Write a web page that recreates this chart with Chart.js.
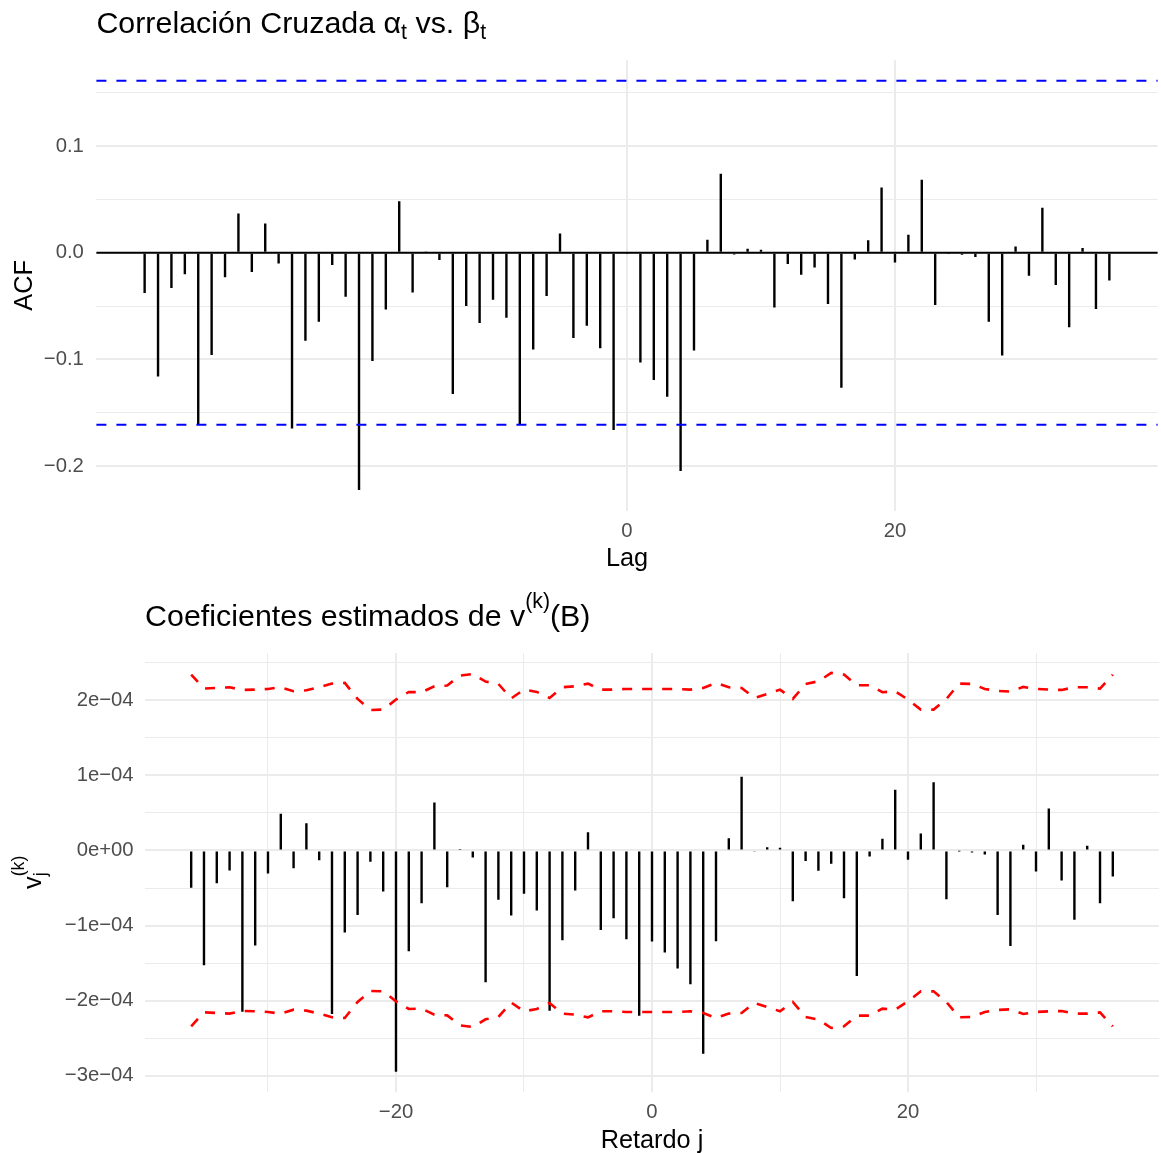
<!DOCTYPE html>
<html>
<head>
<meta charset="utf-8">
<script src="https://cdn.jsdelivr.net/npm/chart.js@4.4.0/dist/chart.umd.min.js"></script>
<style>
html,body{margin:0;padding:0;background:#ffffff;}
#wrap{position:relative;width:1161px;height:1153px;background:#fff;}
.box{position:absolute;left:0;width:1161px;}
</style>
</head>
<body>
<div id="wrap">
  <div class="box" style="top:0;height:580px"><canvas id="c1" width="1161" height="580"></canvas></div>
  <div class="box" style="top:580px;height:573px"><canvas id="c2" width="1161" height="573"></canvas></div>
</div>
<script>
// ---------------- DATA ----------------
// Panel 1: cross-correlation
const acfLags = [-36,-35,-34,-33,-32,-31,-30,-29,-28,-27,-26,-25,-24,-23,-22,-21,-20,-19,-18,-17,-16,-15,-14,-13,-12,-11,-10,-9,-8,-7,-6,-5,-4,-3,-2,-1,0,1,2,3,4,5,6,7,8,9,10,11,12,13,14,15,16,17,18,19,20,21,22,23,24,25,26,27,28,29,30,31,32,33,34,35,36];
const acfValues = [-0.0378,-0.1160,-0.0331,-0.0203,-0.1617,-0.0960,-0.0231,0.0369,-0.0181,0.0275,-0.0100,-0.1648,-0.0826,-0.0647,-0.0116,-0.0413,-0.2226,-0.1016,-0.0532,0.0482,-0.0372,0.0005,-0.0069,-0.1326,-0.0500,-0.0660,-0.0441,-0.0610,-0.1617,-0.0907,-0.0407,0.0181,-0.0800,-0.0685,-0.0897,-0.1664,-0.0005,-0.1029,-0.1194,-0.1351,-0.2048,-0.0916,0.0122,0.0741,-0.0016,0.0038,0.0028,-0.0513,-0.0106,-0.0206,-0.0138,-0.0482,-0.1266,-0.0063,0.0116,0.0613,-0.0091,0.0169,0.0685,-0.0491,-0.0005,-0.0019,-0.0041,-0.0647,-0.0963,0.0059,-0.0216,0.0422,-0.0303,-0.0700,0.0044,-0.0528,-0.0260];
const acfLimits = [-0.1614, 0.1614];
const acfRefLine = [0];
const topXTicks = [0, 20];
const topXLabels = ["0", "20"];
const topYMajor = [-0.2, -0.1, 0, 0.1];
const topYLabels = ["\u22120.2", "\u22120.1", "0.0", "0.1"];
const topYMinor = [-0.15, -0.05, 0.05, 0.15];

// Panel 2: estimated coefficients
const vLags = [-36,-35,-34,-33,-32,-31,-30,-29,-28,-27,-26,-25,-24,-23,-22,-21,-20,-19,-18,-17,-16,-15,-14,-13,-12,-11,-10,-9,-8,-7,-6,-5,-4,-3,-2,-1,0,1,2,3,4,5,6,7,8,9,10,11,12,13,14,15,16,17,18,19,20,21,22,23,24,25,26,27,28,29,30,31,32,33,34,35,36];
const vValues = [-0.498e-4,-1.529e-4,-0.436e-4,-0.267e-4,-2.147e-4,-1.267e-4,-0.307e-4,0.489e-4,-0.236e-4,0.364e-4,-0.129e-4,-2.178e-4,-1.093e-4,-0.858e-4,-0.151e-4,-0.547e-4,-2.947e-4,-1.342e-4,-0.702e-4,0.640e-4,-0.489e-4,0.005e-4,-0.093e-4,-1.756e-4,-0.658e-4,-0.867e-4,-0.578e-4,-0.800e-4,-2.133e-4,-1.196e-4,-0.533e-4,0.244e-4,-1.058e-4,-0.902e-4,-1.182e-4,-2.200e-4,-1.213e-4,-1.360e-4,-1.573e-4,-1.782e-4,-2.707e-4,-1.209e-4,0.164e-4,0.982e-4,-0.018e-4,0.044e-4,0.036e-4,-0.676e-4,-0.142e-4,-0.271e-4,-0.178e-4,-0.636e-4,-1.671e-4,-0.080e-4,0.156e-4,0.809e-4,-0.124e-4,0.227e-4,0.907e-4,-0.649e-4,-0.005e-4,-0.027e-4,-0.053e-4,-0.858e-4,-1.271e-4,0.076e-4,-0.280e-4,0.560e-4,-0.400e-4,-0.924e-4,0.062e-4,-0.702e-4,-0.347e-4];
const vUpper = [2.342e-4,2.156e-4,2.164e-4,2.173e-4,2.138e-4,2.142e-4,2.151e-4,2.173e-4,2.120e-4,2.133e-4,2.173e-4,2.222e-4,2.231e-4,2.018e-4,1.871e-4,1.876e-4,2.009e-4,2.111e-4,2.107e-4,2.187e-4,2.196e-4,2.329e-4,2.351e-4,2.249e-4,2.218e-4,2.025e-4,2.142e-4,2.111e-4,2.031e-4,2.173e-4,2.187e-4,2.222e-4,2.142e-4,2.142e-4,2.151e-4,2.151e-4,2.151e-4,2.151e-4,2.151e-4,2.142e-4,2.164e-4,2.231e-4,2.173e-4,2.164e-4,2.031e-4,2.084e-4,2.142e-4,2.018e-4,2.218e-4,2.253e-4,2.364e-4,2.342e-4,2.200e-4,2.200e-4,2.107e-4,2.120e-4,2.009e-4,1.876e-4,1.876e-4,2.018e-4,2.222e-4,2.218e-4,2.151e-4,2.124e-4,2.116e-4,2.178e-4,2.151e-4,2.142e-4,2.138e-4,2.173e-4,2.173e-4,2.156e-4,2.342e-4];
const vLower = [-2.342e-4,-2.156e-4,-2.164e-4,-2.173e-4,-2.138e-4,-2.142e-4,-2.151e-4,-2.173e-4,-2.120e-4,-2.133e-4,-2.173e-4,-2.222e-4,-2.231e-4,-2.018e-4,-1.871e-4,-1.876e-4,-2.009e-4,-2.111e-4,-2.107e-4,-2.187e-4,-2.196e-4,-2.329e-4,-2.351e-4,-2.249e-4,-2.218e-4,-2.025e-4,-2.142e-4,-2.111e-4,-2.031e-4,-2.173e-4,-2.187e-4,-2.222e-4,-2.142e-4,-2.142e-4,-2.151e-4,-2.151e-4,-2.151e-4,-2.151e-4,-2.151e-4,-2.142e-4,-2.164e-4,-2.231e-4,-2.173e-4,-2.164e-4,-2.031e-4,-2.084e-4,-2.142e-4,-2.018e-4,-2.218e-4,-2.253e-4,-2.364e-4,-2.342e-4,-2.200e-4,-2.200e-4,-2.107e-4,-2.120e-4,-2.009e-4,-1.876e-4,-1.876e-4,-2.018e-4,-2.222e-4,-2.218e-4,-2.151e-4,-2.124e-4,-2.116e-4,-2.178e-4,-2.151e-4,-2.142e-4,-2.138e-4,-2.173e-4,-2.173e-4,-2.156e-4,-2.342e-4];
const botXMajor = [-20, 0, 20];
const botXLabels = ["\u221220", "0", "20"];
const botXMinor = [-30, -10, 10, 30];
const botYMajor = [-3e-4, -2e-4, -1e-4, 0, 1e-4, 2e-4];
const botYLabels = ["\u22123e\u221204", "\u22122e\u221204", "\u22121e\u221204", "0e+00", "1e\u221204", "2e\u221204"];
const botYMinor = [-2.5e-4, -1.5e-4, -0.5e-4, 0.5e-4, 1.5e-4, 2.5e-4];

// ---------------- HELPERS ----------------
const FONT = '"Liberation Sans", Arial, Helvetica, sans-serif';
const TICK_SIZE = 20.3, AXIS_TITLE = 25.3, TITLE = 30.4;
const GRID = '#EBEBEB', TICKCOL = '#4D4D4D';

function near(a, b) { return Math.abs(a - b) < 1e-12; }
function inList(v, list) { return list.some(x => near(x, v)); }
function expandRange(arrs) {
  const all = [].concat(...arrs);
  const lo = Math.min(...all), hi = Math.max(...all);
  const p = 0.05 * (hi - lo);
  return [lo - p, hi + p];
}
function labelFor(v, ticks, labels) {
  const i = ticks.findIndex(x => near(x, v));
  return i >= 0 ? labels[i] : '';
}
function richWidth(ctx, parts, size) {
  let w = 0;
  for (const p of parts) {
    if (p.stack) {
      ctx.font = (size * 0.7) + 'px ' + FONT;
      w += Math.max(ctx.measureText(p.stack[0]).width, ctx.measureText(p.stack[1]).width);
    } else {
      ctx.font = (size * (p.scale || 1)) + 'px ' + FONT;
      w += ctx.measureText(p.t).width;
    }
  }
  return w;
}
function drawRich(ctx, parts, x, y, size) {
  let cx = x;
  for (const p of parts) {
    if (p.stack) {
      ctx.font = (size * 0.7) + 'px ' + FONT;
      ctx.fillText(p.stack[0], cx, y + p.down * size);
      ctx.fillText(p.stack[1], cx, y - p.up * size);
      cx += Math.max(ctx.measureText(p.stack[0]).width, ctx.measureText(p.stack[1]).width);
    } else {
      ctx.font = (size * (p.scale || 1)) + 'px ' + FONT;
      ctx.fillText(p.t, cx, y + (p.dy || 0) * size);
      cx += ctx.measureText(p.t).width;
    }
  }
}
function hLine(chart, v, color, width, dash) {
  const { ctx, chartArea: a, scales: { y } } = chart;
  const py = y.getPixelForValue(v);
  ctx.save();
  ctx.beginPath();
  ctx.strokeStyle = color; ctx.lineWidth = width; ctx.setLineDash(dash || []);
  ctx.moveTo(a.left, py); ctx.lineTo(a.right, py); ctx.stroke();
  ctx.restore();
}
function titlesPlugin(spec) {
  return {
    id: 'titles_' + spec.id,
    afterDatasetsDraw(chart) {
      if (spec.lines) spec.lines(chart);
    },
    afterDraw(chart) {
      const { ctx, chartArea: a } = chart;
      ctx.save();
      ctx.fillStyle = '#000';
      ctx.textAlign = 'left';
      ctx.textBaseline = 'alphabetic';
      drawRich(ctx, spec.title, a.left, a.top - 27, TITLE);
      const wx = richWidth(ctx, spec.xTitle, AXIS_TITLE);
      drawRich(ctx, spec.xTitle, (a.left + a.right) / 2 - wx / 2, a.bottom + 55.8, AXIS_TITLE);
      const wy = richWidth(ctx, spec.yTitle, AXIS_TITLE);
      ctx.translate(spec.yTitleX, (a.top + a.bottom) / 2);
      ctx.rotate(-Math.PI / 2);
      drawRich(ctx, spec.yTitle, -wy / 2, 0, AXIS_TITLE);
      ctx.restore();
    }
  };
}
function axisCommon() {
  return {
    type: 'linear',
    offset: false,
    border: { display: false },
    grid: { offset: false, drawTicks: false, color: GRID },
    ticks: {
      autoSkip: false, maxRotation: 0, minRotation: 0,
      color: TICKCOL,
      font: { family: FONT, size: TICK_SIZE },
    }
  };
}

// ---------------- CHART 1 ----------------
const x1Range = expandRange([acfLags]);
const y1Range = expandRange([acfValues, acfLimits]);
const x1 = axisCommon();
Object.assign(x1, {
  min: x1Range[0], max: x1Range[1],
  afterFit: s => { s.height = 69.5; },
  afterBuildTicks: s => { s.ticks = topXTicks.map(v => ({ value: v })); }
});
x1.grid.lineWidth = 2;
x1.ticks.padding = 9;
x1.ticks.callback = v => labelFor(v, topXTicks, topXLabels);

const y1 = axisCommon();
Object.assign(y1, {
  min: y1Range[0], max: y1Range[1],
  afterFit: s => { s.width = 96.4; },
  afterBuildTicks: s => { s.ticks = topYMajor.concat(topYMinor).sort((a, b) => a - b).map(v => ({ value: v })); }
});
y1.grid.lineWidth = c => (c.tick && inList(c.tick.value, topYMajor)) ? 2 : 1;
y1.ticks.padding = 12.5;
y1.ticks.callback = v => labelFor(v, topYMajor, topYLabels);

new Chart(document.getElementById('c1'), {
  type: 'bar',
  data: {
    datasets: [{
      data: acfLags.map((l, i) => ({ x: l, y: acfValues[i] })),
      backgroundColor: '#000000',
      borderWidth: 0,
      barThickness: 2.4,
      inflateAmount: 0
    }]
  },
  options: {
    responsive: false, animation: false, devicePixelRatio: 1,
    layout: { padding: { top: 60.2, right: 3.4, left: 0, bottom: 0 } },
    plugins: { legend: { display: false }, tooltip: { enabled: false }, title: { display: false } },
    events: [],
    scales: { x: x1, y: y1 }
  },
  plugins: [titlesPlugin({
    id: 'top',
    title: [{ t: 'Correlación Cruzada α' }, { t: 't', scale: 0.7, dy: 0.19 }, { t: ' vs. β' }, { t: 't', scale: 0.7, dy: 0.19 }],
    xTitle: [{ t: 'Lag' }],
    yTitle: [{ t: 'ACF' }],
    yTitleX: 31.5,
    lines: chart => {
      acfRefLine.forEach(v => hLine(chart, v, '#000000', 2.2));
      acfLimits.forEach(v => hLine(chart, v, '#0000FF', 2, [10, 10]));
    }
  })]
});

// ---------------- CHART 2 ----------------
const x2Range = expandRange([vLags]);
const y2Range = expandRange([vValues, vUpper, vLower]);
const x2 = axisCommon();
Object.assign(x2, {
  min: x2Range[0], max: x2Range[1],
  afterFit: s => { s.height = 61.3; },
  afterBuildTicks: s => { s.ticks = botXMajor.concat(botXMinor).sort((a, b) => a - b).map(v => ({ value: v })); }
});
x2.grid.lineWidth = c => (c.tick && inList(c.tick.value, botXMajor)) ? 2 : 1;
x2.ticks.padding = 9;
x2.ticks.callback = v => labelFor(v, botXMajor, botXLabels);

const y2 = axisCommon();
Object.assign(y2, {
  min: y2Range[0], max: y2Range[1],
  afterFit: s => { s.width = 145.1; },
  afterBuildTicks: s => { s.ticks = botYMajor.concat(botYMinor).sort((a, b) => a - b).map(v => ({ value: v })); }
});
y2.grid.lineWidth = c => (c.tick && inList(c.tick.value, botYMajor)) ? 2 : 1;
y2.ticks.padding = 11.5;
y2.ticks.callback = v => labelFor(v, botYMajor, botYLabels);

new Chart(document.getElementById('c2'), {
  type: 'bar',
  data: {
    datasets: [
      {
        type: 'bar',
        data: vLags.map((l, i) => ({ x: l, y: vValues[i] })),
        backgroundColor: '#000000',
        borderWidth: 0,
        barThickness: 2.4,
        inflateAmount: 0,
        order: 2
      },
      {
        type: 'line',
        data: vLags.map((l, i) => ({ x: l, y: vUpper[i] })),
        borderColor: '#FF0000', borderWidth: 2.6, borderDash: [10, 10],
        pointRadius: 0, tension: 0, fill: false, order: 1
      },
      {
        type: 'line',
        data: vLags.map((l, i) => ({ x: l, y: vLower[i] })),
        borderColor: '#FF0000', borderWidth: 2.6, borderDash: [10, 10],
        pointRadius: 0, tension: 0, fill: false, order: 1
      }
    ]
  },
  options: {
    responsive: false, animation: false, devicePixelRatio: 1,
    layout: { padding: { top: 73, right: 2.1, left: 0, bottom: 0 } },
    plugins: { legend: { display: false }, tooltip: { enabled: false }, title: { display: false } },
    events: [],
    scales: { x: x2, y: y2 }
  },
  plugins: [titlesPlugin({
    id: 'bottom',
    title: [{ t: 'Coeficientes estimados de v' }, { t: '(k)', scale: 0.7, dy: -0.59 }, { t: '(B)' }],
    xTitle: [{ t: 'Retardo j' }],
    yTitle: [{ t: 'v' }, { stack: ['j', '(k)'], down: 0.2, up: 0.66 }],
    yTitleX: 40.7
  })]
});
</script>
</body>
</html>
